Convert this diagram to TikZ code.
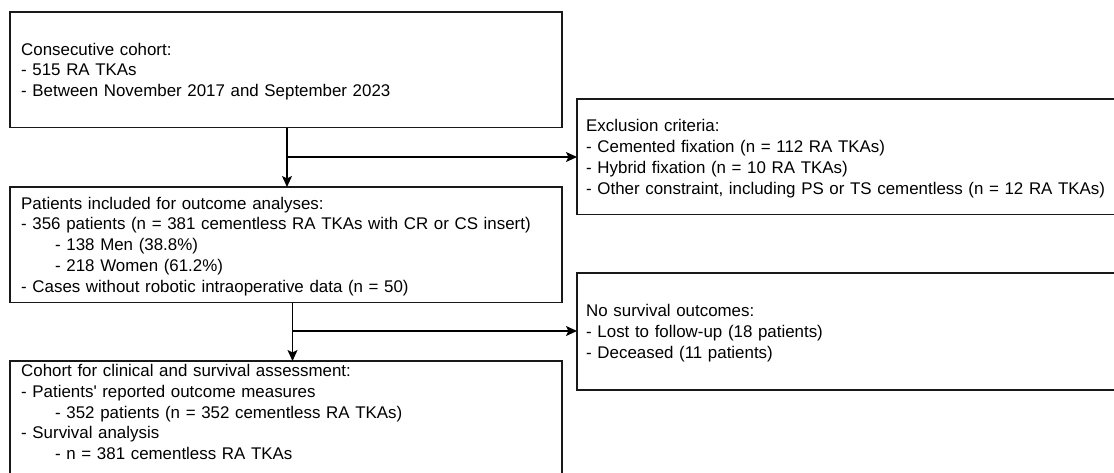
\documentclass[tikz,border=0pt]{standalone}
\usepackage{fontspec}
\newfontfamily\lsans{Liberation Sans}
\usetikzlibrary{arrows.meta}
\begin{document}
\begin{tikzpicture}[x=1pt,y=-1pt,
  boxstyle/.style={draw=black!90, line width=1.2pt, anchor=north west, inner sep=0pt, outer sep=0pt},
  txt/.style={anchor=north west, inner sep=0pt, align=left, text width=600pt, font=\lsans\fontsize{16.9}{20.8}\selectfont},
  arr/.style={draw=black, line width=1.2pt, -{Stealth[length=11pt,width=10pt,inset=2.5pt]}}]
\useasboundingbox (0,0) rectangle (1114,472);
\clip (0,0) rectangle (1114,472);
\fill[white] (0,0) rectangle (1114,472);
% boxes
\node[boxstyle, minimum width=552pt, minimum height=115.5pt] (b1) at (10,12) {};
\node[boxstyle, minimum width=552pt, minimum height=115.5pt] (b2) at (10,187) {};
\node[boxstyle, minimum width=552pt, minimum height=130pt] (b3) at (10,361) {};
\node[boxstyle, minimum width=545pt, minimum height=115.5pt] (b4) at (577,99) {};
\node[boxstyle, minimum width=545pt, minimum height=117pt] (b5) at (577,273) {};
% texts
\node[txt] (t1) at (21,38.5) {\rule{0pt}{16.4pt}Consecutive cohort:\\- 515 RA TKAs\\- Between November 2017 and September 2023};
\node[txt] (t2) at (21,192.5) {\rule{0pt}{16.4pt}Patients included for outcome analyses:\\- 356 patients (n = 381 cementless RA TKAs with CR or CS insert)\\\hspace*{34pt}- 138 Men (38.8\%)\\\hspace*{34pt}- 218 Women (61.2\%)\\- Cases without robotic intraoperative data (n = 50)};
\node[txt] (t3) at (21,359.8) {\rule{0pt}{16.4pt}Cohort for clinical and survival assessment:\\- Patients' reported outcome measures\\\hspace*{34pt}- 352 patients (n = 352 cementless RA TKAs)\\- Survival analysis\\\hspace*{34pt}- n = 381 cementless RA TKAs};
\node[txt] (t4) at (586,115.2) {\rule{0pt}{16.4pt}Exclusion criteria:\\- Cemented fixation (n = 112 RA TKAs)\\- Hybrid fixation (n = 10 RA TKAs)\\- Other constraint, including PS or TS cementless (n = 12 RA TKAs)};
\node[txt] (t5) at (586,300.3) {\rule{0pt}{16.4pt}No survival outcomes:\\- Lost to follow-up (18 patients)\\- Deceased (11 patients)};
% connectors
\coordinate (j1) at (287,157);
\coordinate (j2) at (292.5,331);
\draw[arr] (b1.south -| j1) -- (b2.north -| j1);
\draw[arr] (j1) -- (b4.west |- j1);
\draw[arr] (b2.south -| j2) -- (b3.north -| j2);
\draw[arr] (j2) -- (b5.west |- j2);
\end{tikzpicture}
\end{document}
